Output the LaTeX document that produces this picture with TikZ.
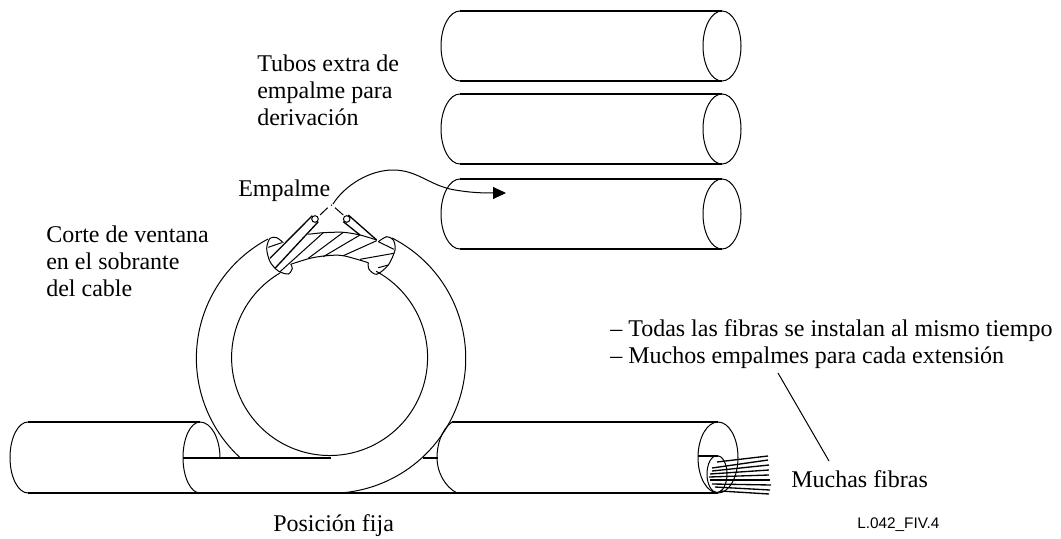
\documentclass[tikz,border=0pt]{standalone}
\usepackage{fontspec}
\setmainfont{Liberation Serif}
\newfontfamily\labelfont{Liberation Sans}
\usetikzlibrary{arrows.meta}

\begin{document}
\begin{tikzpicture}
  [x=.75pt,y=-.75pt,
   heavy/.style={line width=1.25pt},
   wire/.style={line width=.75pt},
   fibre/.style={line width=1pt},
   txt/.style={anchor=west,inner sep=0pt,align=left,font=\fontsize{18}{20.25}\selectfont}]
  \useasboundingbox (0,0) rectangle (1061,539);

  \node[txt] (tubos) at (257,90) {Tubos extra de\\empalme para\\derivación};
  \node[txt] (empalme) at (238,191) {Empalme};
  \node[txt] (corte) at (46,261) {Corte de ventana\\en el sobrante\\del cable};
  \node[txt] (todas) at (610,344) {-- Todas las fibras se instalan al mismo tiempo\\-- Muchos empalmes para cada extensión};
  \node[txt] (muchas) at (791,479) {Muchas fibras};
  \node[txt] (fija) at (273,526) {Posición fija};
  \node[anchor=west,inner sep=0pt,font=\labelfont\fontsize{11.5}{12}\selectfont] (ref) at (857,525) {L.042\_FIV.4};

  \foreach \top/\mid/\bot in {11/46/81,94/129/164,179/214/249} {
    \draw[heavy] (460,\top) -- (722,\top);
    \draw[heavy] (460,\bot) -- (722,\bot);
    \draw[wire] (460,\top) arc[start angle=-90,end angle=-270,x radius=19,y radius=35];
    \draw[wire] (722,\mid) circle[x radius=19,y radius=35];
  }

  \draw[heavy] (28,422) -- (200,422);
  \draw[heavy] (28,493) -- (200,493);
  \draw[wire] (28,422) arc[start angle=-90,end angle=-270,x radius=18,y radius=35.5];
  \draw[wire] (200,422) arc[start angle=-90,end angle=-270,x radius=17,y radius=35.5];
  \draw[wire] (200,422) arc[start angle=-90,end angle=0,x radius=20,y radius=36];
  \draw[heavy] (183,458) -- (331,458);
  \draw[heavy] (200,493) -- (457,493);
  \draw[heavy] (423,458) -- (438,458);

  \draw[heavy] (452,422) -- (718,422);
  \draw[heavy] (457,493) -- (718,493);
  \draw[wire] (452,422) .. controls (441,430) and (437,445) .. (437,458) .. controls (437,472) and (445,487) .. (457,493);
  \draw[wire] (718,457.5) circle[x radius=20,y radius=35.5];
  \draw[heavy] (698,456) -- (718,456);
  \draw[wire] (717,474) circle[x radius=10,y radius=18.5];
  \foreach \xb/\yb/\xc/\yc in {717/462/768/456,712/468/768/460,712/471/769/465,710/474/769/470,709/477/769/475,710/480/770/480,712/484/771/485,715/487/770/490,720/491/769/494}
    \draw[fibre] (\xb,\yb) -- (\xc,\yc);

  \draw[wire] (268,239) arc[start angle=242,end angle=132.3,radius=135];
  \draw[wire] (392,238) arc[start angle=-63,end angle=90,radius=135];
  \draw[wire] (280,273) arc[start angle=239.6,end angle=-61.6,radius=98];

  \draw[wire] plot[smooth] coordinates {(283.3,242.7) (276.7,237.7) (270,238.3) (266.7,248.3) (270,261.7) (278.3,271) (288.3,274) (292.3,268.3) (290.7,264.3)};
  \draw[wire] plot[smooth] coordinates {(308.3,234.3) (323.3,232.7) (343.3,232.3) (360,235) (376.7,240)};
  \draw[wire] plot[smooth] coordinates {(290.7,264.3) (310,258.3) (326.7,255.7) (343.3,255.7) (368.3,262.7)};
  \draw[wire] plot[smooth] coordinates {(378.3,241.7) (386.7,236.7) (393.3,240) (395,250) (388.3,265) (376.7,274.3) (369,269.3) (368.3,262.7)};

  \foreach \xb/\yb/\xc/\yc in {268.3/247.3/281.7/242.7,323.3/232.7/280/271.7,343.3/232.3/308.3/258.3,360/235/323.3/256.7,376.7/240.7/343.3/255.7,378.3/241.7/394/249.3,394/253.3/360/259.3,388.3/265/378.3/267.7}
    \draw[wire] (\xb,\yb) -- (\xc,\yc);

  \foreach \xb/\yb/\xc/\yc in {312.3/215.7/270/258.3,318.3/221.7/275/268.3,348.3/215/376.7/240,343.3/221.7/360/235}
    \draw[fibre] (\xb,\yb) -- (\xc,\yc);
  \draw[wire] (315,219) circle[radius=3.3];
  \draw[wire] (346.7,219) circle[radius=3.3];
  \draw[wire] (320,215) -- (327.7,207.7);
  \draw[wire] (335,207.7) -- (343.3,215);
  \draw[wire] (331.2,205.5) -- (331.9,204.8);

  \coordinate (tail) at (333,204);
  \coordinate (tip) at (506,193);
  \draw[wire,-{Triangle[length=13*.75pt,width=12*.75pt]}] (tail) .. controls (345,185) and (370,170) .. (393,170) .. controls (418,170) and (430,186) .. (455,190) .. controls (470,192.5) and (480,193) .. (tip);

  \coordinate (leadtop) at (778,373);
  \coordinate (leadbot) at (829,461);
  \draw[wire] (leadtop) -- (leadbot);

\end{tikzpicture}
\end{document}
